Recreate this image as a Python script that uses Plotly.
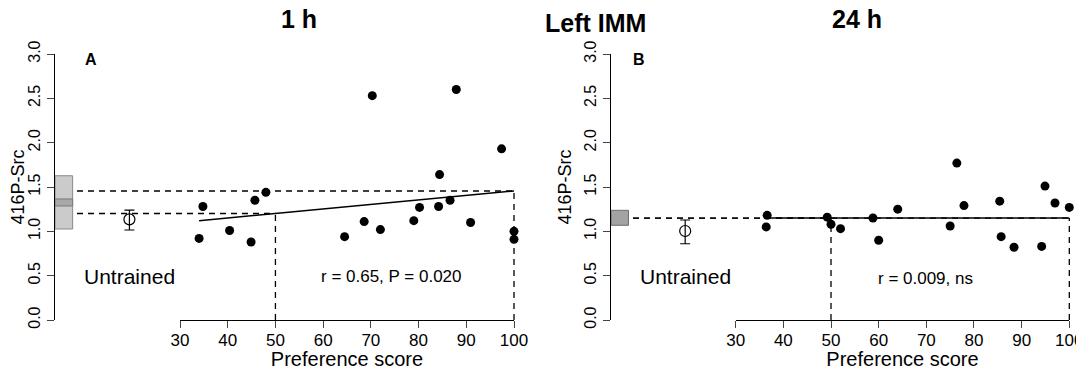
import plotly.graph_objects as go

# ---------------- data ----------------
# Panel A (1 h)
pref_a = [34.0, 34.8, 40.4, 44.9, 45.7, 48.0, 64.5, 68.6, 70.3, 72.0,
          79.0, 80.2, 84.2, 84.4, 86.6, 87.9, 90.9, 97.4, 100.0, 100.0]
src_a = [0.92, 1.28, 1.01, 0.88, 1.35, 1.44, 0.94, 1.11, 2.53, 1.02,
         1.12, 1.27, 1.28, 1.64, 1.35, 2.60, 1.10, 1.93, 1.00, 0.91]
reg_a_x = [34.0, 100.0]
reg_a_y = [1.12, 1.455]
box_a = [1.026, 1.286, 1.365, 1.627]      # low, band low, band high, high
untr_a = [1.135, 1.015, 1.24]             # mean, low, high
stat_a = "r = 0.65, P = 0.020"

# Panel B (24 h)
pref_b = [36.6, 36.4, 49.2, 50.0, 52.0, 58.8, 60.0, 64.0, 75.0, 76.4,
          77.9, 85.4, 85.7, 88.4, 94.2, 94.9, 97.0, 100.0]
src_b = [1.18, 1.05, 1.16, 1.08, 1.03, 1.15, 0.90, 1.25, 1.06, 1.77,
         1.29, 1.34, 0.94, 0.82, 0.83, 1.51, 1.32, 1.27]
reg_b_x = [37.0, 100.0]
reg_b_y = [1.15, 1.15]
box_b = [1.068, 1.237]
untr_b = [1.004, 0.86, 1.128]
stat_b = "r = 0.009, ns"

untrained_x = 19.4
x_ticks = [30, 40, 50, 60, 70, 80, 90, 100]
y_ticks = [0.0, 0.5, 1.0, 1.5, 2.0, 2.5, 3.0]

# ---------------- layout geometry ----------------
# the page body has an 8px margin, so the figure starts at (8, 8)
OFF = 8
W, H = 1084 - OFF, 370 - OFF
FONT = "Liberation Sans, Arial, Helvetica, sans-serif"


def fx(px):
    return (px - OFF) / W


def fy(py):
    return 1 - (py - OFF) / H


y_bot_px, y_top_px = 320, 54
ydom = [fy(y_bot_px), fy(y_top_px)]


def panel_geom(axis_px, x30_px, x100_px, right_px):
    scale = (x100_px - x30_px) / 70.0
    p0 = 30 - (x30_px - axis_px) / scale
    p1 = 100 + (right_px - x100_px) / scale
    return p0, p1


A_AXIS, A_30, A_100, A_R = 55, 180, 514, 521
B_AXIS, B_30, B_100, B_R = 611, 735.7, 1069.3, 1076
p0a, p1a = panel_geom(A_AXIS, A_30, A_100, A_R)
p0b, p1b = panel_geom(B_AXIS, B_30, B_100, B_R)

fig = go.Figure()


def interp(xs, ys, x):
    return ys[0] + (ys[1] - ys[0]) * (x - xs[0]) / (xs[1] - xs[0])


dash = "6px,5px"


def add_panel(xa, ya, xv, p0, pref, src, reg_x, reg_y, untr):
    v50 = interp(reg_x, reg_y, 50)
    v100 = interp(reg_x, reg_y, 100)
    line_d = dict(color="black", width=1.3, dash=dash)
    for xs, ys in [([p0, 50], [v50, v50]), ([p0, 100], [v100, v100]),
                   ([50, 50], [0, v50]), ([100, 100], [0, v100])]:
        fig.add_trace(go.Scatter(x=xs, y=ys, mode="lines", line=line_d,
                                 xaxis=xa, yaxis=ya, showlegend=False,
                                 hoverinfo="skip", cliponaxis=False))
    fig.add_trace(go.Scatter(x=reg_x, y=reg_y, mode="lines",
                             line=dict(color="black", width=1.5),
                             xaxis=xa, yaxis=ya, showlegend=False))
    fig.add_trace(go.Scatter(
        x=[untrained_x], y=[untr[0]], mode="markers",
        marker=dict(symbol="circle-open", size=11, color="black",
                    line=dict(width=1.2, color="black")),
        error_y=dict(type="data", symmetric=False,
                     array=[untr[2] - untr[0]], arrayminus=[untr[0] - untr[1]],
                     color="black", thickness=1.2, width=5),
        xaxis=xa, yaxis=ya, showlegend=False))
    fig.add_trace(go.Scatter(x=pref, y=src, mode="markers",
                             marker=dict(size=9, color="black"),
                             xaxis=xv, yaxis=ya, showlegend=False,
                             cliponaxis=False))


add_panel("x", "y", "x3", p0a, pref_a, src_a, reg_a_x, reg_a_y, untr_a)
add_panel("x2", "y2", "x4", p0b, pref_b, src_b, reg_b_x, reg_b_y, untr_b)

shapes = [
    dict(type="rect", xref="x", yref="y", x0=p0a, x1=7.5, y0=box_a[0], y1=box_a[3],
         fillcolor="#cbcbcb", line=dict(color="#8a8a8a", width=1), layer="above"),
    dict(type="rect", xref="x", yref="y", x0=p0a, x1=7.5, y0=box_a[1], y1=box_a[2],
         fillcolor="#a8a8a8", line=dict(color="#7a7a7a", width=1), layer="above"),
    dict(type="rect", xref="x2", yref="y2", x0=p0b, x1=7.5, y0=box_b[0], y1=box_b[1],
         fillcolor="#a3a3a3", line=dict(color="#6e6e6e", width=1), layer="above"),
]

tick_font = dict(family=FONT, size=17, color="black")
yaxis_common = dict(range=[0, 3], domain=ydom, tickvals=y_ticks, tickformat=".1f",
                    tickangle=-90, ticks="outside", ticklen=7, tickwidth=1.3,
                    showline=True, linecolor="black", linewidth=1.3,
                    showgrid=False, zeroline=False,
                    tickfont=dict(family=FONT, size=16, color="black"),
                    title=dict(text="416P-Src", font=dict(family=FONT, size=18, color="black"),
                               standoff=6),
                    automargin=False)
hidden_x = dict(visible=False, showgrid=False, zeroline=False)
xaxis_common = dict(range=[30, 100], tickvals=x_ticks, ticks="outside", ticklen=7,
                    tickwidth=1.3, showline=True, linecolor="black", linewidth=1.3,
                    showgrid=False, zeroline=False, tickfont=tick_font,
                    ticklabelstandoff=-3,
                    title=dict(text="Preference score",
                               font=dict(family=FONT, size=20, color="black"), standoff=2),
                    automargin=False)

fig.update_layout(
    width=W, height=H,
    margin=dict(l=0, r=0, t=0, b=0),
    paper_bgcolor="white", plot_bgcolor="rgba(0,0,0,0)",
    font=dict(family=FONT, color="black"),
    showlegend=False,
    xaxis=dict(domain=[fx(A_AXIS), fx(A_R)], range=[p0a, p1a], anchor="y", **hidden_x),
    yaxis=dict(anchor="x", **yaxis_common),
    xaxis3=dict(domain=[fx(A_30), fx(A_100)], anchor="y", **xaxis_common),
    xaxis2=dict(domain=[fx(B_AXIS), fx(B_R)], range=[p0b, p1b], anchor="y2", **hidden_x),
    yaxis2=dict(anchor="x2", **yaxis_common),
    xaxis4=dict(domain=[fx(B_30), fx(B_100)], anchor="y2", **xaxis_common),
    shapes=shapes,
)

ann = []
title_font = dict(family=FONT, size=25, color="black")
for txt, px, py in [("<b>1 h</b>", 298.5, 19), ("<b>Left IMM</b>", 595, 23),
                    ("<b>24 h</b>", 857, 19)]:
    ann.append(dict(text=txt, xref="paper", yref="paper", x=fx(px), y=fy(py),
                    xanchor="center", yanchor="middle", showarrow=False, font=title_font))
for xr, yr, lab, lx in [("x", "y", "A", 11.3), ("x2", "y2", "B", 9.8)]:
    ann.append(dict(text="<b>%s</b>" % lab, xref=xr, yref=yr, x=lx, y=2.94,
                    showarrow=False, font=dict(family=FONT, size=16, color="black")))
    ann.append(dict(text="Untrained", xref=xr, yref=yr, x=untrained_x, y=0.49,
                    showarrow=False, font=dict(family=FONT, size=21, color="black")))
ann.append(dict(text=stat_a, xref="x", yref="y", x=74.4, y=0.49, showarrow=False,
                font=dict(family=FONT, size=17, color="black")))
ann.append(dict(text=stat_b, xref="x2", yref="y2", x=69.9, y=0.47, showarrow=False,
                font=dict(family=FONT, size=17, color="black")))
fig.update_layout(annotations=ann)

fig.write_html("out.html")
